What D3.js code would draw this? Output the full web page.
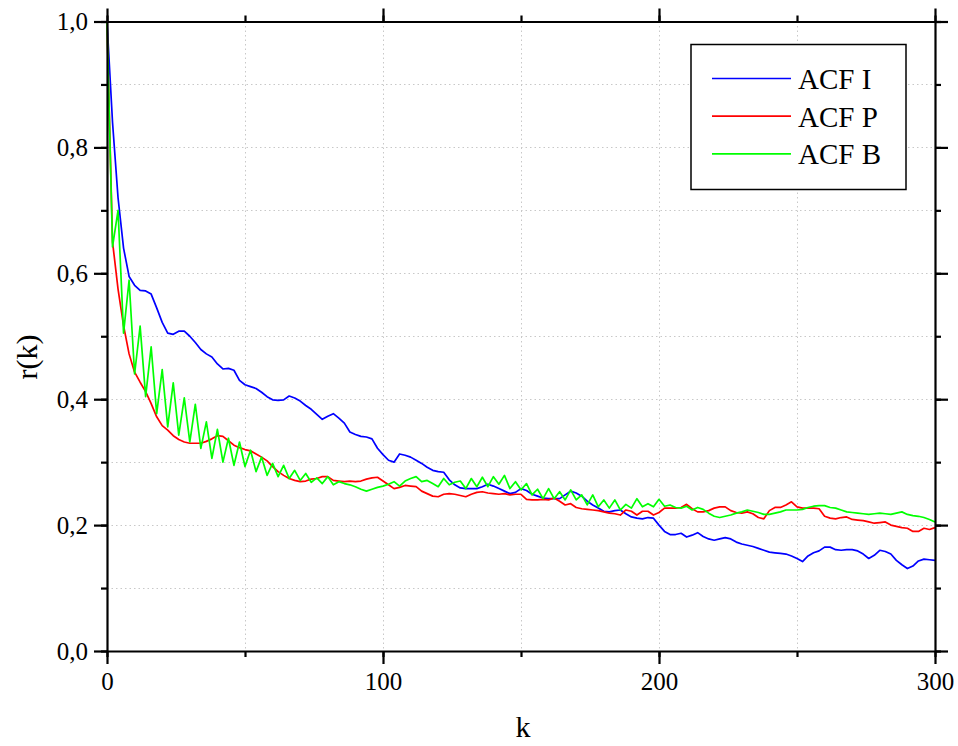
<!DOCTYPE html>
<html><head><meta charset="utf-8">
<script src="https://cdn.jsdelivr.net/npm/d3@7"></script>
<style>body{margin:0;background:#fff}svg{display:block}svg text{font-family:'Liberation Serif','Times New Roman',serif;fill:#000}</style>
</head><body>
<script>
// lags (step 2)
const lags = d3.range(0, 301, 2);
const acfI = [1.0,0.84,0.72,0.64,0.595,0.581,0.573,0.572,0.567,0.545,0.522,0.505,0.503,0.508,0.508,0.50,0.49,0.479,0.472,0.467,
0.456,0.448,0.449,0.446,0.43,0.423,0.42,0.417,0.411,0.404,0.399,0.398,0.399,0.405,0.402,0.397,0.39,0.384,0.376,0.368,
0.373,0.377,0.37,0.362,0.348,0.344,0.341,0.340,0.337,0.322,0.312,0.303,0.30,0.313,0.311,0.308,0.303,0.298,0.292,0.287,
0.285,0.284,0.272,0.264,0.259,0.258,0.258,0.258,0.261,0.265,0.262,0.258,0.254,0.25,0.252,0.258,0.255,0.249,0.246,0.243,
0.242,0.242,0.242,0.248,0.254,0.251,0.246,0.238,0.232,0.227,0.222,0.221,0.223,0.224,0.218,0.213,0.211,0.21,0.212,0.211,
0.20,0.19,0.185,0.185,0.187,0.181,0.184,0.188,0.182,0.178,0.176,0.178,0.18,0.178,0.173,0.17,0.168,0.166,0.163,0.16,
0.157,0.156,0.155,0.154,0.151,0.147,0.142,0.151,0.156,0.159,0.165,0.165,0.161,0.16,0.161,0.161,0.159,0.154,0.147,0.152,
0.16,0.158,0.154,0.144,0.137,0.131,0.135,0.143,0.146,0.145,0.144];
const acfP = [1.0,0.65,0.575,0.517,0.472,0.443,0.427,0.412,0.393,0.372,0.358,0.351,0.342,0.336,0.332,0.33,0.33,0.33,0.333,0.337,
0.342,0.341,0.334,0.327,0.323,0.32,0.318,0.313,0.308,0.302,0.293,0.285,0.279,0.274,0.271,0.269,0.27,0.273,0.274,0.277,
0.277,0.271,0.27,0.269,0.27,0.269,0.27,0.273,0.275,0.276,0.27,0.264,0.258,0.26,0.263,0.262,0.261,0.254,0.25,0.246,
0.245,0.249,0.25,0.249,0.247,0.245,0.249,0.252,0.253,0.251,0.25,0.249,0.25,0.248,0.249,0.249,0.241,0.24,0.24,0.241,
0.24,0.243,0.238,0.232,0.234,0.228,0.226,0.225,0.224,0.223,0.221,0.219,0.218,0.216,0.224,0.222,0.216,0.222,0.222,0.216,
0.22,0.227,0.227,0.227,0.228,0.233,0.226,0.221,0.221,0.223,0.227,0.229,0.229,0.223,0.22,0.219,0.221,0.218,0.212,0.21,
0.223,0.228,0.228,0.232,0.237,0.229,0.227,0.227,0.227,0.226,0.214,0.211,0.21,0.212,0.213,0.209,0.208,0.207,0.205,0.203,
0.204,0.205,0.2,0.198,0.196,0.195,0.19,0.19,0.195,0.193,0.196];
const acfB = [1.0,0.642,0.70,0.505,0.589,0.44,0.516,0.404,0.483,0.377,0.447,0.356,0.426,0.343,0.402,0.332,0.392,0.322,0.364,0.306,
0.352,0.30,0.338,0.295,0.332,0.293,0.319,0.285,0.308,0.279,0.298,0.277,0.295,0.274,0.287,0.271,0.282,0.268,0.275,0.266,
0.277,0.264,0.269,0.266,0.264,0.261,0.257,0.254,0.257,0.26,0.262,0.265,0.269,0.262,0.27,0.274,0.277,0.269,0.271,0.266,
0.261,0.274,0.264,0.268,0.27,0.258,0.274,0.261,0.276,0.261,0.277,0.265,0.279,0.258,0.269,0.256,0.266,0.248,0.257,0.242,
0.258,0.242,0.253,0.24,0.256,0.24,0.248,0.232,0.248,0.229,0.24,0.227,0.24,0.224,0.233,0.227,0.242,0.229,0.234,0.229,
0.241,0.23,0.232,0.228,0.227,0.23,0.224,0.228,0.225,0.219,0.214,0.212,0.214,0.216,0.219,0.221,0.224,0.222,0.22,0.217,
0.217,0.219,0.221,0.224,0.224,0.224,0.225,0.228,0.23,0.231,0.231,0.228,0.227,0.224,0.221,0.22,0.219,0.218,0.217,0.218,
0.219,0.218,0.217,0.219,0.221,0.217,0.215,0.214,0.212,0.209,0.205];
const seriesNames = ["ACF I","ACF P","ACF B"];
const seriesColors = ["#0000ff","#ff0000","#00ff00"];
const xTickVals = [0,100,200,300];
const yTickVals = [0,0.2,0.4,0.6,0.8,1.0];
const xLabel = "k", yLabel = "r(k)";

const W=958,H=746;
const svg=d3.select("body").append("svg").attr("width",W).attr("height",H);
const L=107,R=935,T=21.5,B=651;
const x=d3.scaleLinear().domain([0,300]).range([L,R]);
const y=d3.scaleLinear().domain([0,1]).range([B,T]);
const fmt=d=>d3.format(".1f")(d).replace(".",",");
const FF="'Liberation Serif','Times New Roman',serif";

// grid
const g=svg.append("g").attr("stroke","#c8c8c8").attr("stroke-width",1).attr("stroke-dasharray","1.5,3");
d3.range(50,300,50).forEach(v=>g.append("line").attr("x1",Math.round(x(v))+0.5).attr("x2",Math.round(x(v))+0.5).attr("y1",T).attr("y2",B));
d3.range(1,10).forEach(i=>{const v=i/10;g.append("line").attr("y1",Math.round(y(v))+0.5).attr("y2",Math.round(y(v))+0.5).attr("x1",L).attr("x2",R);});

// series
const data=[acfI,acfP,acfB];
const line=d3.line().x((d,i)=>x(lags[i])).y(d=>y(d));
[0,1,2].forEach(s=>{
  svg.append("path").datum(data[s]).attr("d",line).attr("fill","none")
    .attr("stroke",seriesColors[s]).attr("stroke-width",1.7).attr("stroke-linejoin","round");
});

// axes
const sw=2.2;
const styleAxis=a=>{a.attr("font-family",FF).attr("font-size",25);
  a.selectAll("line").attr("stroke-width",sw).attr("stroke","#000");
  a.selectAll("text").attr("font-family",FF).style("font-family",FF).style("font-size","25px");};
const minorX=d3.range(0,301,50), minorY=d3.range(0,11).map(i=>i/10);
const minor=(gen,tr)=>svg.append("g").attr("transform",tr).call(gen.tickSize(6).tickFormat("").tickSizeOuter(0)).call(styleAxis).select(".domain").remove();
minor(d3.axisBottom(x).tickValues(minorX),`translate(0,${B})`);
minor(d3.axisTop(x).tickValues(minorX),`translate(0,${T})`);
minor(d3.axisLeft(y).tickValues(minorY),`translate(${L},0)`);
minor(d3.axisRight(y).tickValues(minorY),`translate(${R},0)`);
const major=(gen,tr)=>svg.append("g").attr("transform",tr).call(gen).call(styleAxis)
  .call(a=>a.select(".domain").attr("stroke-width",sw).attr("stroke","#000"));
major(d3.axisBottom(x).tickValues(xTickVals).tickSize(13).tickSizeOuter(0).tickPadding(8),`translate(0,${B})`);
major(d3.axisTop(x).tickValues(xTickVals).tickSize(13).tickSizeOuter(0).tickFormat(""),`translate(0,${T})`);
major(d3.axisLeft(y).tickValues(yTickVals).tickSize(13).tickSizeOuter(0).tickPadding(6).tickFormat(fmt),`translate(${L},0)`);
major(d3.axisRight(y).tickValues(yTickVals).tickSize(13).tickSizeOuter(0).tickFormat(""),`translate(${R},0)`);

// titles
svg.append("text").attr("x",523).attr("y",737).attr("text-anchor","middle").style("font-size","30px").text(xLabel);
svg.append("text").attr("transform",`translate(37,357) rotate(-90)`).attr("text-anchor","middle").style("font-size","30px").text(yLabel);

// legend
const lg=svg.append("g");
lg.append("rect").attr("x",691).attr("y",44.5).attr("width",215).attr("height",145).attr("fill","#fff").attr("stroke","#000").attr("stroke-width",1.5);
seriesNames.forEach((n,i)=>{
  const ly=78.5+i*37.7;
  lg.append("line").attr("x1",712).attr("x2",791).attr("y1",ly).attr("y2",ly).attr("stroke",seriesColors[i]).attr("stroke-width",1.7);
  lg.append("text").attr("x",798).attr("y",ly+10.5).style("font-size","29px").text(n);
});
</script>
</body></html>
